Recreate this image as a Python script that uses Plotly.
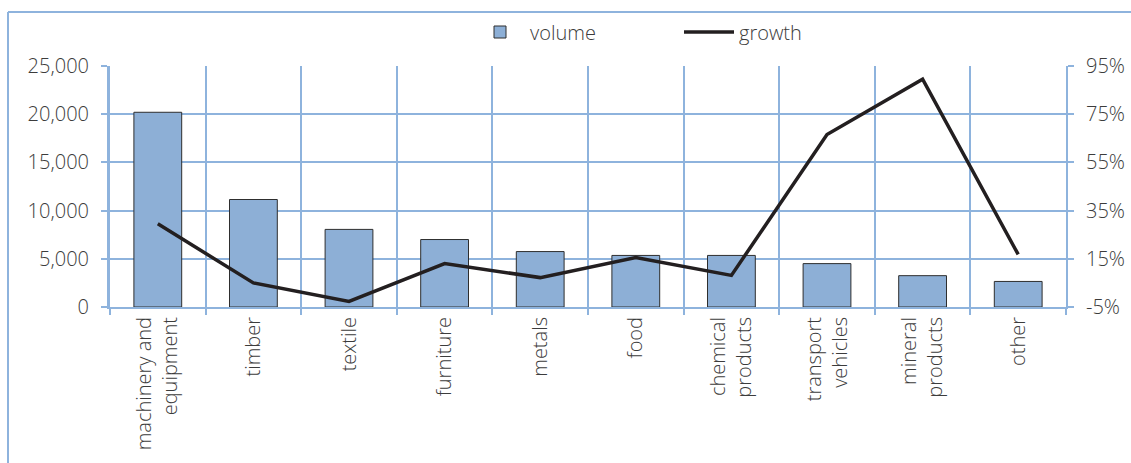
import plotly.graph_objects as go

categories = [
    "machinery and<br>equipment", "timber", "textile", "furniture", "metals",
    "food", "chemical<br>products", "transport<br>vehicles", "mineral<br>products", "other",
]
volume = [20200, 11150, 8050, 7000, 5750, 5350, 5350, 4500, 3250, 2650]
growth = [29.5, 5.0, -2.7, 13.0, 7.2, 15.5, 8.1, 66.6, 89.5, 16.8]

volume_ticks = [0, 5000, 10000, 15000, 20000, 25000]
growth_ticks = [-5, 15, 35, 55, 75, 95]
growth_labels = [f"{v}%" for v in growth_ticks]

GRID = "#8EB3DD"
TEXT = "#3C3C3C"
FONT = "Open Sans, DejaVu Sans, sans-serif"
WEIGHT = 300

W, H = 1131, 463
ML, MR, MT, MB = 110, 65, 66, 156
PW, PH = W - ML - MR, H - MT - MB


def px_x(px):
    return (px - ML) / PW


def px_y(py):
    return (H - MB - py) / PH


label_font = dict(family=FONT, size=20, color=TEXT, weight=WEIGHT)

fig = go.Figure()
fig.add_trace(go.Bar(
    x=categories, y=volume, name="volume",
    marker=dict(color="#8DAFD6", line=dict(color="#2E2E2E", width=1)),
    yaxis="y",
))
fig.add_trace(go.Scatter(
    x=categories, y=growth, name="growth", mode="lines",
    line=dict(color="#231F20", width=3.5),
    yaxis="y2",
))

fig.update_layout(
    width=W, height=H,
    margin=dict(l=ML, r=MR, t=MT, b=MB, autoexpand=False),
    paper_bgcolor="white", plot_bgcolor="white",
    font=label_font,
    bargap=0.5,
    showlegend=True,
    legend=dict(
        orientation="h", x=px_x(470), xanchor="left", y=px_y(32), yanchor="middle",
        font=label_font, itemwidth=50, traceorder="normal",
        entrywidth=144, entrywidthmode="pixels",
    ),
    xaxis=dict(
        type="category", tickson="boundaries", tickangle=-90, automargin=False,
        showgrid=True, gridcolor=GRID, gridwidth=2,
        showline=True, linecolor=GRID, linewidth=2,
        ticks="outside", ticklen=6, tickcolor=GRID, tickwidth=2,
        tickfont=label_font,
    ),
    yaxis=dict(
        range=[0, 25000], tickvals=volume_ticks, tickformat=",", automargin=False,
        showgrid=True, gridcolor=GRID, gridwidth=2, zeroline=False,
        showline=True, linecolor=GRID, linewidth=3,
        ticks="outside", ticklen=6, tickcolor=GRID, tickwidth=2,
        ticklabelstandoff=8,
        tickfont=label_font,
    ),
    yaxis2=dict(
        range=[-5, 95], tickmode="array", tickvals=growth_ticks, ticktext=growth_labels,
        overlaying="y", side="right", automargin=False,
        showgrid=False, zeroline=False,
        showline=True, linecolor=GRID, linewidth=2,
        ticks="outside", ticklen=6, tickcolor=GRID, tickwidth=2,
        ticklabelstandoff=8,
        tickfont=label_font,
    ),
    shapes=[
        dict(type="line", xref="paper", yref="paper",
             x0=px_x(8), x1=px_x(8), y0=px_y(H), y1=px_y(12),
             line=dict(color=GRID, width=2)),
        dict(type="line", xref="paper", yref="paper",
             x0=px_x(8), x1=px_x(W), y0=px_y(12), y1=px_y(12),
             line=dict(color=GRID, width=2)),
    ],
)

fig.write_html("out.html")
